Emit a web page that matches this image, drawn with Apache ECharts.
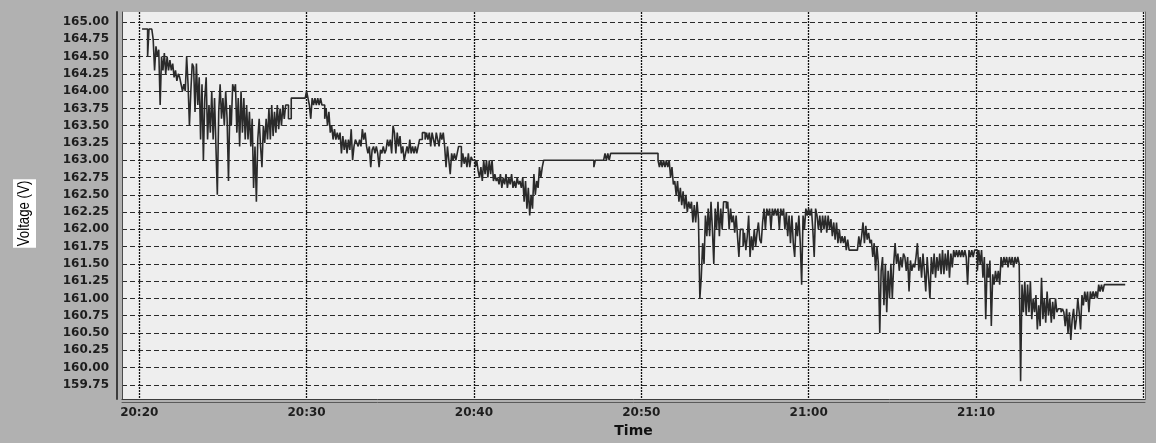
<!DOCTYPE html>
<html>
<head>
<meta charset="utf-8">
<script src="https://cdn.jsdelivr.net/npm/echarts@6/dist/echarts.min.js"></script>
<style>
  html, body { margin: 0; padding: 0; background: #b1b1b1; }
  #chart { width: 1156px; height: 443px; }
</style>
</head>
<body>
<div id="chart"></div>
<script>
// Supply voltage log: one reading every 5 s, first row starts at 20:20:00.
const startMinute = 20 * 60 + 20;
const sampleSeconds = 5;

// One row per minute, 12 readings (:00, :05, ... :55), in volts
const volts2020 = [
  [null, null, 164.9, 164.9, 164.9, 164.9, 164.5, 164.9, 164.9, 164.9, 164.75, 164.3],
  [164.65, 164.5, 164.6, 163.8, 164.5, 164.3, 164.55, 164.25, 164.5, 164.3, 164.45, 164.3],
  [164.4, 164.2, 164.3, 164.15, 164.25, 164.2, 164.1, 164.0, 164.1, 164.0, 164.5, 164.1],
  [163.5, 164.0, 164.4, 164.35, 163.7, 164.4, 163.8, 164.2, 163.3, 164.1, 163.0, 163.9],
  [164.2, 163.3, 163.8, 163.4, 164.0, 163.3, 163.9, 163.2, 162.5, 163.7, 164.1, 163.6],
  [163.9, 163.5, 164.0, 163.6, 162.7, 163.8, 163.5, 164.1, 164.0, 164.1, 163.4, 163.9],
  [163.2, 164.0, 163.4, 163.9, 163.3, 163.8, 163.3, 163.7, 163.2, 163.6, 162.6, 163.2],
  [162.4, 163.3, 163.6, 163.2, 162.9, 163.5, 163.25, 163.6, 163.3, 163.75, 163.3, 163.8],
  [163.35, 163.7, 163.4, 163.8, 163.45, 163.75, 163.5, 163.8, 163.6, 163.8, 163.8, 163.6],
  [163.6, 163.9, 163.9, 163.9, 163.9, 163.9, 163.9, 163.9, 163.9, 163.9, 163.9, 163.9]
];
const volts2030 = [
  [164.0, 163.9, 163.8, 163.6, 163.9, 163.8, 163.9, 163.8, 163.9, 163.8, 163.9, 163.8],
  [163.8, 163.6, 163.75, 163.5, 163.7, 163.4, 163.5, 163.3, 163.45, 163.3, 163.4, 163.3],
  [163.4, 163.1, 163.35, 163.15, 163.3, 163.1, 163.3, 163.15, 163.45, 163.0, 163.2, 163.3],
  [163.25, 163.2, 163.3, 163.2, 163.45, 163.3, 163.4, 163.2, 163.1, 163.2, 162.9, 163.15],
  [163.2, 163.1, 163.2, 163.1, 162.9, 163.15, 163.1, 163.2, 163.1, 163.15, 163.3, 163.2],
  [163.3, 163.1, 163.5, 163.4, 163.1, 163.4, 163.2, 163.35, 163.1, 163.2, 163.0, 163.1],
  [163.2, 163.1, 163.3, 163.1, 163.2, 163.1, 163.2, 163.1, 163.2, 163.3, 163.3, 163.4],
  [163.4, 163.3, 163.4, 163.3, 163.4, 163.2, 163.4, 163.3, 163.2, 163.4, 163.3, 163.2],
  [163.4, 163.3, 163.4, 163.2, 162.9, 163.2, 163.0, 162.8, 163.1, 163.0, 163.1, 163.0],
  [163.1, 163.2, 163.2, 162.9, 163.1, 162.95, 163.05, 162.9, 163.1, 162.9, 163.05, 163.0]
];
const volts2040 = [
  [163.0, 162.9, 163.0, 162.85, 162.75, 162.9, 162.7, 163.0, 162.8, 163.0, 162.75, 163.0],
  [162.8, 163.0, 162.7, 162.8, 162.7, 162.75, 162.65, 162.8, 162.6, 162.75, 162.65, 162.8],
  [162.6, 162.75, 162.65, 162.8, 162.6, 162.7, 162.6, 162.75, 162.65, 162.7, 162.6, 162.75],
  [162.4, 162.7, 162.3, 162.6, 162.2, 162.5, 162.3, 162.8, 162.5, 162.7, 162.6, 162.9],
  [162.75, 162.9, 163.0, 163.0, 163.0, 163.0, 163.0, 163.0, 163.0, 163.0, 163.0, 163.0],
  [163.0, 163.0, 163.0, 163.0, 163.0, 163.0, 163.0, 163.0, 163.0, 163.0, 163.0, 163.0],
  [163.0, 163.0, 163.0, 163.0, 163.0, 163.0, 163.0, 163.0, 163.0, 163.0, 163.0, 163.0],
  [163.0, 163.0, 162.9, 163.0, 163.0, 163.0, 163.0, 163.0, 163.0, 163.0, 163.1, 163.0],
  [163.1, 163.0, 163.1, 163.1, 163.1, 163.1, 163.1, 163.1, 163.1, 163.1, 163.1, 163.1],
  [163.1, 163.1, 163.1, 163.1, 163.1, 163.1, 163.1, 163.1, 163.1, 163.1, 163.1, 163.1]
];
const volts2050 = [
  [163.1, 163.1, 163.1, 163.1, 163.1, 163.1, 163.1, 163.1, 163.1, 163.1, 163.1, 163.1],
  [163.0, 162.9, 163.0, 162.9, 163.0, 162.9, 163.0, 162.9, 163.0, 162.75, 162.9, 162.65],
  [162.7, 162.5, 162.7, 162.4, 162.6, 162.35, 162.55, 162.3, 162.5, 162.25, 162.4, 162.3],
  [162.4, 162.1, 162.35, 162.1, 162.4, 162.15, 161.0, 161.3, 161.8, 161.5, 162.2, 161.9],
  [162.3, 161.9, 162.4, 162.0, 161.5, 162.3, 162.0, 162.4, 161.9, 162.3, 162.0, 162.4],
  [162.4, 162.3, 162.4, 162.0, 162.3, 162.1, 162.2, 161.95, 162.2, 161.9, 161.6, 162.0],
  [162.0, 161.75, 161.95, 161.7, 161.9, 162.2, 161.6, 161.9, 161.7, 162.0, 161.75, 161.95],
  [162.1, 161.85, 161.8, 162.1, 162.3, 162.0, 162.3, 162.2, 162.3, 162.0, 162.3, 162.2],
  [162.3, 162.2, 162.3, 162.0, 162.3, 162.2, 162.3, 162.0, 162.25, 161.9, 162.2, 161.8],
  [162.2, 161.8, 161.6, 162.1, 161.9, 162.2, 161.8, 161.2, 162.2, 162.0, 162.3, 162.2]
];
const volts2100 = [
  [162.3, 162.2, 162.3, 162.0, 161.6, 162.3, 162.2, 162.0, 162.2, 161.95, 162.2, 162.0],
  [162.2, 161.95, 162.2, 162.0, 162.15, 161.9, 162.1, 161.85, 162.1, 161.8, 162.0, 161.8],
  [161.9, 161.8, 161.9, 161.7, 161.85, 161.7, 161.7, 161.7, 161.7, 161.7, 161.7, 161.7],
  [161.9, 161.75, 161.9, 162.1, 161.8, 162.05, 161.85, 161.95, 161.8, 161.85, 161.6, 161.8],
  [161.4, 161.75, 161.5, 160.5, 161.4, 161.6, 160.9, 161.5, 160.8, 161.4, 161.0, 161.5],
  [161.0, 161.5, 161.8, 161.5, 161.65, 161.4, 161.6, 161.45, 161.65, 161.6, 161.4, 161.6],
  [161.1, 161.55, 161.4, 161.5, 161.45, 161.6, 161.8, 161.4, 161.6, 161.3, 161.65, 161.4],
  [161.1, 161.6, 161.3, 161.0, 161.6, 161.35, 161.65, 161.3, 161.6, 161.4, 161.65, 161.35],
  [161.7, 161.35, 161.65, 161.4, 161.7, 161.3, 161.65, 161.45, 161.7, 161.6, 161.7, 161.6],
  [161.7, 161.6, 161.7, 161.6, 161.7, 161.6, 161.2, 161.7, 161.6, 161.7, 161.6, 161.7]
];
const volts2110 = [
  [161.7, 161.4, 161.7, 161.5, 161.7, 161.3, 161.6, 160.7, 161.5, 161.3, 161.55, 160.6],
  [161.35, 161.2, 161.4, 161.25, 161.4, 161.2, 161.6, 161.45, 161.6, 161.5, 161.6, 161.45],
  [161.6, 161.5, 161.6, 161.45, 161.6, 161.5, 161.6, 161.5, 159.8, 161.2, 160.8, 161.25],
  [160.75, 161.2, 160.8, 161.25, 160.7, 161.0, 160.8, 161.05, 160.55, 160.9, 160.6, 161.3],
  [160.7, 161.0, 160.65, 161.1, 160.75, 161.0, 160.65, 160.95, 160.7, 161.0, 160.8, 160.85],
  [160.85, 160.8, 160.85, 160.8, 160.6, 160.85, 160.5, 160.8, 160.4, 160.7, 160.85, 160.55],
  [160.7, 161.0, 160.8, 160.55, 161.05, 160.9, 161.1, 160.95, 161.1, 160.8, 161.1, 161.0],
  [161.1, 161.0, 161.1, 161.0, 161.2, 161.1, 161.2, 161.1, 161.2, 161.2, 161.2, 161.2],
  [161.2, 161.2, 161.2, 161.2, 161.2, 161.2, 161.2, 161.2, 161.2, 161.2, 161.2, 161.2]
];

// Axis ticks (time in minutes since midnight, voltage in volts)
const timeGrid = [1220, 1230, 1240, 1250, 1260, 1270, 1280];
const timeLabels = [1220, 1230, 1240, 1250, 1260, 1270];
const voltTicks = [159.75, 160.00, 160.25, 160.50, 160.75, 161.00, 161.25, 161.50,
  161.75, 162.00, 162.25, 162.50, 162.75, 163.00, 163.25, 163.50, 163.75,
  164.00, 164.25, 164.50, 164.75, 165.00];

const readings = [].concat(volts2020, volts2030, volts2040, volts2050, volts2100, volts2110).flat();
const series = readings.map((v, i) => [startMinute + i * sampleSeconds / 60, v]);

const tMin = 1218.97, tMax = 1280.1;
const vMin = 159.543, vMax = 165.146;

const hhmm = m => {
  const h = Math.floor(m / 60), mm = Math.round(m % 60);
  return h + ':' + (mm < 10 ? '0' : '') + mm;
};
const tickFont = { fontFamily: 'DejaVu Sans', fontWeight: 'bold', fontSize: 12, color: '#1e1e1e' };

const chart = echarts.init(document.getElementById('chart'), null, { renderer: 'canvas' });
chart.setOption({
  animation: false,
  backgroundColor: '#b1b1b1',
  grid: {
    left: 122, right: 11, top: 12, bottom: 35,
    show: true, backgroundColor: '#eeeeee', borderWidth: 0
  },
  // vertical axis title in a white box, narrowed along its reading direction
  graphic: [{
    type: 'text',
    x: 24.5, y: 213.5,
    rotation: Math.PI / 2,
    scaleX: 0.78,
    style: {
      text: 'Voltage (V)',
      fontFamily: 'Liberation Sans', fontSize: 17, fill: '#000',
      align: 'center', verticalAlign: 'middle',
      textAlign: 'center', textVerticalAlign: 'middle',
      backgroundColor: '#ffffff', padding: [3, 2, 3, 2]
    }
  }],
  xAxis: [
    {
      type: 'value', min: tMin, max: tMax, position: 'bottom',
      axisLine: { show: true, lineStyle: { color: '#3c3c3c', width: 1 } },
      axisTick: { show: false, customValues: timeGrid },
      axisLabel: Object.assign({ customValues: timeLabels, margin: 8, formatter: hhmm }, tickFont),
      splitLine: { show: true, lineStyle: { type: [2, 1], color: '#111', width: 1.3 } },
      name: 'Time', nameLocation: 'middle', nameGap: 20,
      nameTextStyle: { fontFamily: 'DejaVu Sans', fontWeight: 'bold', fontSize: 14, color: '#111' }
    },
    {
      type: 'value', min: tMin, max: tMax, position: 'bottom', offset: 3,
      axisLine: { show: true, lineStyle: { color: '#5a5a5a', width: 1 } },
      axisTick: { show: false }, axisLabel: { show: false }, splitLine: { show: false }
    }
  ],
  yAxis: [
    {
      type: 'value', min: vMin, max: vMax, position: 'left', offset: 5,
      axisLine: { show: true, lineStyle: { color: '#3c3c3c', width: 2 } },
      axisTick: { show: false, customValues: voltTicks },
      axisLabel: Object.assign({ customValues: voltTicks, margin: 8, formatter: v => v.toFixed(2) }, tickFont),
      splitLine: { show: true, lineStyle: { type: [5, 3], color: '#2a2a2a', width: 1 } }
    },
    {
      type: 'value', min: vMin, max: vMax, position: 'left', offset: 0,
      axisLine: { show: true, lineStyle: { color: '#4a4a4a', width: 1 } },
      axisTick: { show: false }, axisLabel: { show: false }, splitLine: { show: false }
    },
    {
      type: 'value', min: vMin, max: vMax, position: 'right', offset: 0,
      axisLine: { show: true, lineStyle: { color: '#6a6a6a', width: 1 } },
      axisTick: { show: false }, axisLabel: { show: false }, splitLine: { show: false }
    }
  ],
  series: [
    {
      type: 'line', step: 'end', data: series,
      xAxisIndex: 0, yAxisIndex: 0,
      symbol: 'none', showSymbol: false, connectNulls: false,
      lineStyle: { color: '#2a2a2a', width: 1.6 }
    }
  ]
});
</script>
</body>
</html>
